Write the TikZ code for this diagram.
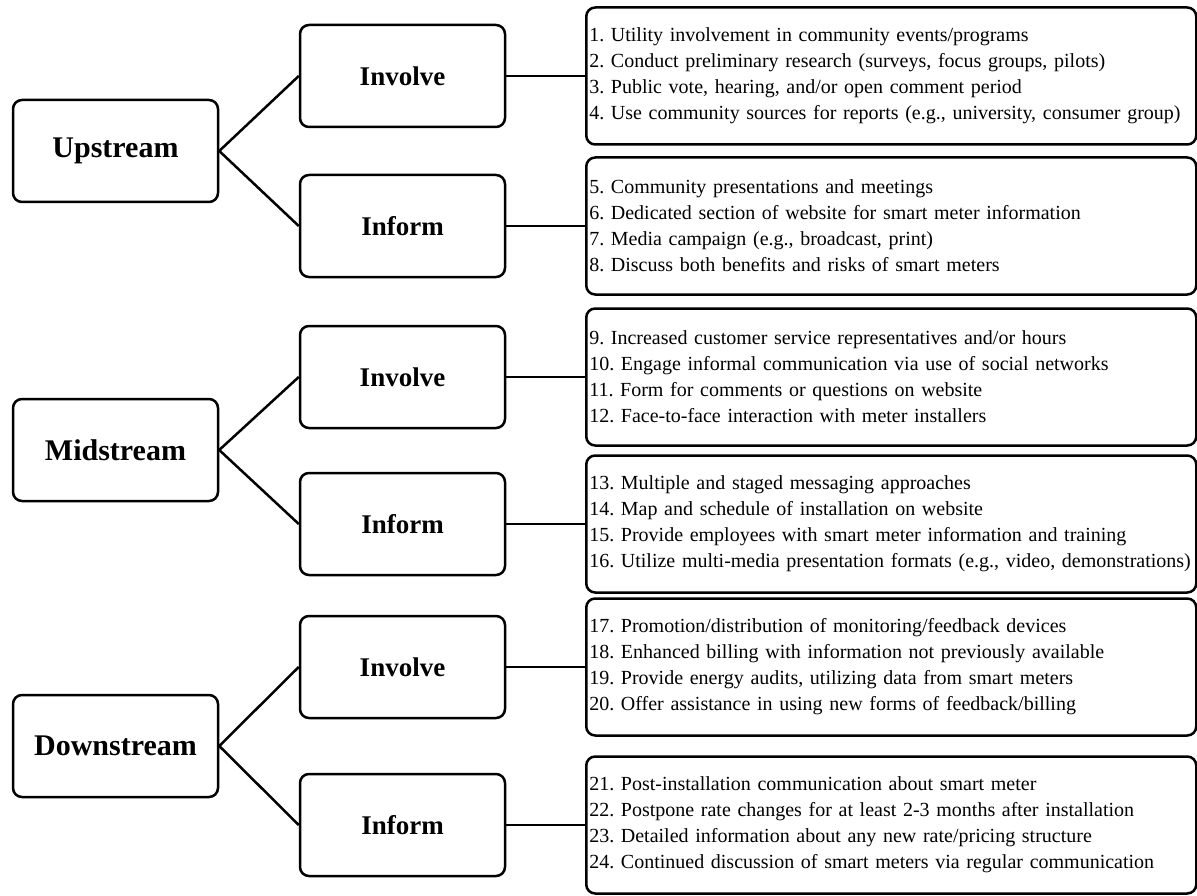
\documentclass[tikz,border=0pt]{standalone}
\usepackage{fontspec}
\setmainfont{Liberation Serif}
\frenchspacing
\begin{document}
\begin{tikzpicture}[x=1pt,y=-1pt,
  box/.style={draw, line width=2.5pt, rounded corners=9pt, fill=white},
  lvlone/.style={box, minimum width=205pt, minimum height=102pt, inner sep=0pt, font=\fontsize{30}{36}\selectfont\bfseries},
  lvltwo/.style={box, minimum width=205pt, minimum height=102pt, inner sep=0pt, font=\fontsize{27}{32}\selectfont\bfseries},
  items/.style={box, anchor=west, minimum width=610pt, minimum height=137pt, text width=604pt, inner xsep=3pt, align=left, font=\fontsize{20}{26}\selectfont},
  conn/.style={line width=2.5pt}]
\useasboundingbox (0,0) rectangle (1197,896);
\fill[white] (0,0) rectangle (1197,896);

\node[lvlone] (up)   at (115.5,151) {Upstream};
\node[lvlone] (mid)  at (115.5,450) {Midstream};
\node[lvlone] (down) at (115.5,746) {Downstream};

\node[lvltwo] (upinv)   at (402.5,76)  {Involve};
\node[lvltwo] (upinf)   at (402.5,226) {Inform};
\node[lvltwo] (midinv)  at (402.5,377) {Involve};
\node[lvltwo] (midinf)  at (402.5,524) {Inform};
\node[lvltwo] (downinv) at (402.5,667) {Involve};
\node[lvltwo] (downinf) at (402.5,825) {Inform};

\node[items] (l1) at (585,76) {1. Utility involvement in community events/programs\\
2. Conduct preliminary research (surveys, focus groups, pilots)\\
3. Public vote, hearing, and/or open comment period\\
4. Use community sources for reports (e.g., university, consumer group)};
\node[items] (l2) at (585,226) {5. Community presentations and meetings\\
6. Dedicated section of website for smart meter information\\
7. Media campaign (e.g., broadcast, print)\\
8. Discuss both benefits and risks of smart meters};
\node[items] (l3) at (585,377) {9. Increased customer service representatives and/or hours\\
10. Engage informal communication via use of social networks\\
11. Form for comments or questions on website\\
12. Face-to-face interaction with meter installers};
\node[items] (l4) at (585,524) {13. Multiple and staged messaging approaches\\
14. Map and schedule of installation on website\\
15. Provide employees with smart meter information and training\\
16. Utilize multi-media presentation formats (e.g., video, demonstrations)};
\node[items] (l5) at (585,667) {17. Promotion/distribution of monitoring/feedback devices\\
18. Enhanced billing with information not previously available\\
19. Provide energy audits, utilizing data from smart meters\\
20. Offer assistance in using new forms of feedback/billing};
\node[items] (l6) at (585,825) {21. Post-installation communication about smart meter\\
22. Postpone rate changes for at least 2-3 months after installation\\
23. Detailed information about any new rate/pricing structure\\
24. Continued discussion of smart meters via regular communication};

\draw[conn] (up.east) -- (upinv.west);
\draw[conn] (up.east) -- (upinf.west);
\draw[conn] (mid.east) -- (midinv.west);
\draw[conn] (mid.east) -- (midinf.west);
\draw[conn] (down.east) -- (downinv.west);
\draw[conn] (down.east) -- (downinf.west);

\draw[conn] (upinv.east) -- (l1.west);
\draw[conn] (upinf.east) -- (l2.west);
\draw[conn] (midinv.east) -- (l3.west);
\draw[conn] (midinf.east) -- (l4.west);
\draw[conn] (downinv.east) -- (l5.west);
\draw[conn] (downinf.east) -- (l6.west);
\end{tikzpicture}
\end{document}
